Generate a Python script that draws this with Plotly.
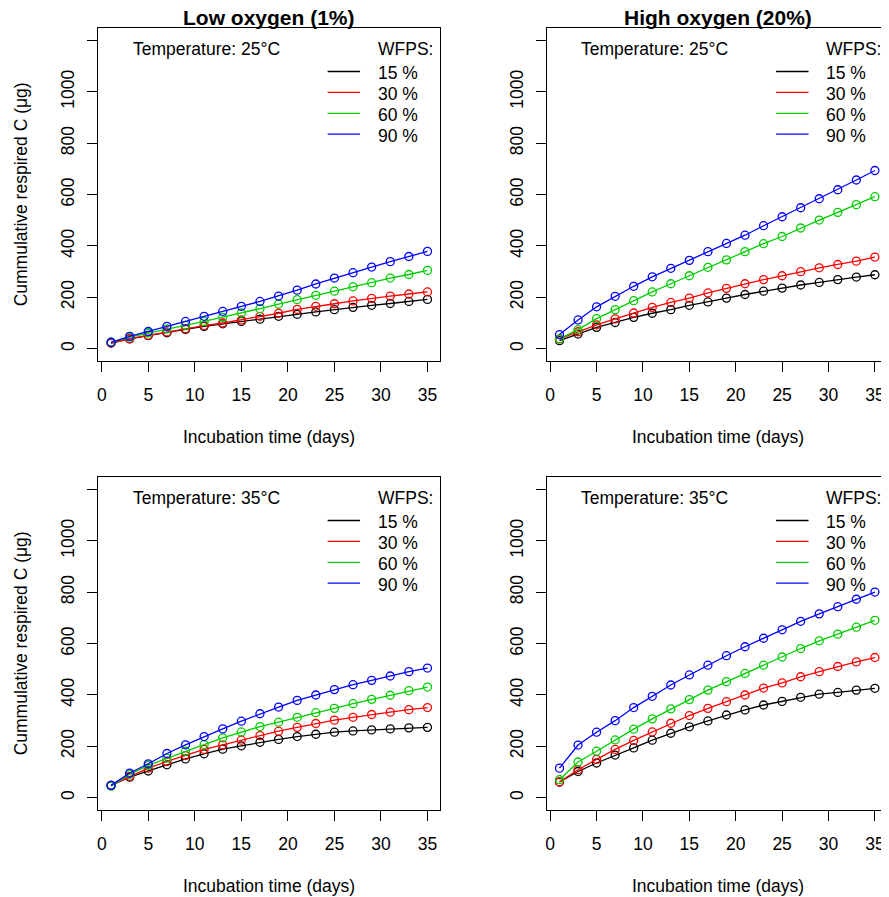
import plotly.graph_objects as go

# ---------------- data ----------------
days = [1, 3, 5, 7, 9, 11, 13, 15, 17, 19, 21, 23, 25, 27, 29, 31, 33, 35]
wfps_labels = ["15 %", "30 %", "60 %", "90 %"]
series_colors = ["#000000", "#FF0000", "#00CD00", "#0000FF"]

# Low oxygen (1%), 25 C
low25_15 = [22, 38, 51, 62, 75, 87, 97, 106, 115, 126, 134, 143, 152, 161, 169, 176, 184, 192]
low25_30 = [22, 39, 52, 65, 78, 90, 100, 112, 126, 138, 153, 165, 175, 186, 196, 205, 213, 221]
low25_60 = [25, 45, 61, 77, 91, 106, 122, 139, 156, 174, 191, 208, 224, 241, 257, 275, 289, 305]
low25_90 = [25, 48, 67, 87, 106, 126, 145, 165, 184, 205, 228, 252, 275, 296, 318, 339, 359, 379]

# High oxygen (20%), 25 C
high25_15 = [31, 57, 83, 102, 122, 138, 152, 169, 182, 197, 211, 224, 236, 248, 258, 269, 279, 288]
high25_30 = [38, 66, 93, 116, 139, 161, 180, 197, 217, 235, 253, 269, 284, 300, 315, 328, 341, 357]
high25_60 = [38, 74, 117, 152, 187, 221, 253, 284, 317, 346, 378, 409, 437, 470, 501, 531, 561, 592]
high25_90 = [55, 112, 163, 204, 243, 280, 313, 344, 378, 410, 442, 479, 514, 549, 584, 619, 657, 694]

# Low oxygen (1%), 35 C
low35_15 = [48, 80, 104, 128, 151, 171, 189, 202, 216, 227, 238, 247, 255, 260, 264, 268, 272, 274]
low35_30 = [48, 83, 115, 141, 164, 188, 206, 224, 242, 259, 274, 289, 302, 313, 324, 333, 343, 351]
low35_60 = [45, 91, 126, 154, 181, 207, 233, 256, 277, 294, 313, 331, 348, 366, 383, 399, 417, 431]
low35_90 = [48, 96, 132, 172, 206, 238, 268, 298, 327, 353, 379, 400, 421, 440, 457, 474, 491, 505]

# High oxygen (20%), 35 C
high35_15 = [61, 102, 135, 166, 194, 224, 251, 276, 299, 322, 342, 361, 375, 391, 403, 410, 419, 426]
high35_30 = [61, 109, 149, 188, 223, 256, 290, 320, 348, 374, 400, 427, 447, 471, 491, 511, 529, 546]
high35_60 = [70, 139, 181, 225, 267, 307, 346, 382, 419, 452, 484, 516, 548, 581, 611, 637, 664, 691]
high35_90 = [115, 205, 255, 300, 351, 395, 439, 478, 516, 553, 588, 621, 654, 687, 716, 744, 773, 801]

x_ticks = [0, 5, 10, 15, 20, 25, 30, 35]
x_ticktext = ["0", "5", "10", "15", "20", "25", "30", "35"]
y_ticks = [0, 200, 400, 600, 800, 1000, 1200]
y_ticktext = ["0", "200", "400", "600", "800", "1000", ""]

col_titles = ["Low oxygen (1%)", "High oxygen (20%)"]
row_temps = ["Temperature: 25°C", "Temperature: 35°C"]
x_title = "Incubation time (days)"
y_title = "Cummulative respired C (μg)"

panels = [
    (0, 0, [low25_15, low25_30, low25_60, low25_90]),
    (0, 1, [high25_15, high25_30, high25_60, high25_90]),
    (1, 0, [low35_15, low35_30, low35_60, low35_90]),
    (1, 1, [high35_15, high35_30, high35_60, high35_90]),
]

# ---------------- layout helpers ----------------
# The page body has an 8px margin, so the figure is drawn 8px smaller and
# every reference pixel position is shifted by that offset.
OFF = 8
W, H = 889 - OFF, 897 - OFF
FONT = "Liberation Sans, Arial, Helvetica, sans-serif"
FS = 17.5


def px(x):
    return (x - OFF) / W


def py(y):
    return 1 - (y - OFF) / H


COL_DX = 450
ROW_DY = 449
col_domains = [[px(96.7), px(439.6)], [px(546.7), px(888.5)]]
row_domains = [[py(361.0), py(28.3)], [py(361.0 + ROW_DY), py(28.3 + ROW_DY)]]

fig = go.Figure()
layout = dict(
    width=W, height=H,
    margin=dict(l=0, r=0, t=0, b=0),
    paper_bgcolor="white", plot_bgcolor="white",
    showlegend=False,
    font=dict(family=FONT, size=FS, color="black"),
)
annotations = []
shapes = []

for k, (r, c, ys) in enumerate(panels):
    idx = "" if k == 0 else str(k + 1)
    xa, ya = "x" + idx, "y" + idx
    for yvals, col in zip(ys, series_colors):
        fig.add_trace(go.Scatter(
            x=days, y=yvals, xaxis=xa, yaxis=ya, mode="lines+markers",
            line=dict(color=col, width=1.3),
            marker=dict(symbol="circle-open", size=8, color=col, line=dict(width=1.3, color=col)),
            cliponaxis=False, hoverinfo="skip",
        ))
    common = dict(showline=True, mirror=True, linecolor="black", linewidth=1,
                  ticks="outside", ticklen=10, tickwidth=1, tickcolor="black",
                  showgrid=False, zeroline=False, tickfont=dict(family=FONT, size=FS, color="black"))
    layout["xaxis" + idx] = dict(domain=col_domains[c], anchor=ya, range=[-0.36, 36.36],
                                 tickmode="array", tickvals=x_ticks, ticktext=x_ticktext,
                                 ticklabelstandoff=8, **common)
    layout["yaxis" + idx] = dict(domain=row_domains[r], anchor=xa, range=[-48, 1248],
                                 tickmode="array", tickvals=y_ticks, ticktext=y_ticktext,
                                 tickangle=-90, ticklabelstandoff=6, **common)

    ox, oy = c * COL_DX, r * ROW_DY
    # temperature note
    annotations.append(dict(x=px(129.3 + ox), y=py(49 + oy), xref="paper", yref="paper",
                            text=row_temps[r], showarrow=False, xanchor="left", yanchor="middle",
                            font=dict(family=FONT, size=FS, color="black")))
    # legend
    annotations.append(dict(x=px(375 + ox), y=py(49 + oy), xref="paper", yref="paper",
                            text="WFPS:", showarrow=False, xanchor="left", yanchor="middle",
                            font=dict(family=FONT, size=FS, color="black")))
    for i, (lab, col) in enumerate(zip(wfps_labels, series_colors)):
        ty = 72.9 + 20.9 * i + oy
        annotations.append(dict(x=px(375 + ox), y=py(ty), xref="paper", yref="paper",
                                text=lab, showarrow=False, xanchor="left", yanchor="middle",
                                font=dict(family=FONT, size=FS, color="black")))
        shapes.append(dict(type="line", xref="paper", yref="paper",
                           x0=px(326.7 + ox), x1=px(359.3 + ox), y0=py(ty - 1.4), y1=py(ty - 1.4),
                           line=dict(color=col, width=1.3)))
    # x axis title
    annotations.append(dict(x=px(268.2 + ox), y=py(437 + oy), xref="paper", yref="paper",
                            text=x_title, showarrow=False, xanchor="center", yanchor="middle",
                            font=dict(family=FONT, size=FS, color="black")))
    # column titles (top row only)
    if r == 0:
        annotations.append(dict(x=px(268.2 + ox), y=py(18), xref="paper", yref="paper",
                                text="<b>" + col_titles[c] + "</b>", showarrow=False,
                                xanchor="center", yanchor="middle",
                                font=dict(family=FONT, size=21, color="black")))
    # y axis title (left column only)
    if c == 0:
        annotations.append(dict(x=px(19), y=py(194.4 + oy), xref="paper", yref="paper",
                                text=y_title, showarrow=False, textangle=-90,
                                xanchor="center", yanchor="middle",
                                font=dict(family=FONT, size=FS, color="black")))

layout["annotations"] = annotations
layout["shapes"] = shapes
fig.update_layout(**layout)
fig.write_html("out.html")
